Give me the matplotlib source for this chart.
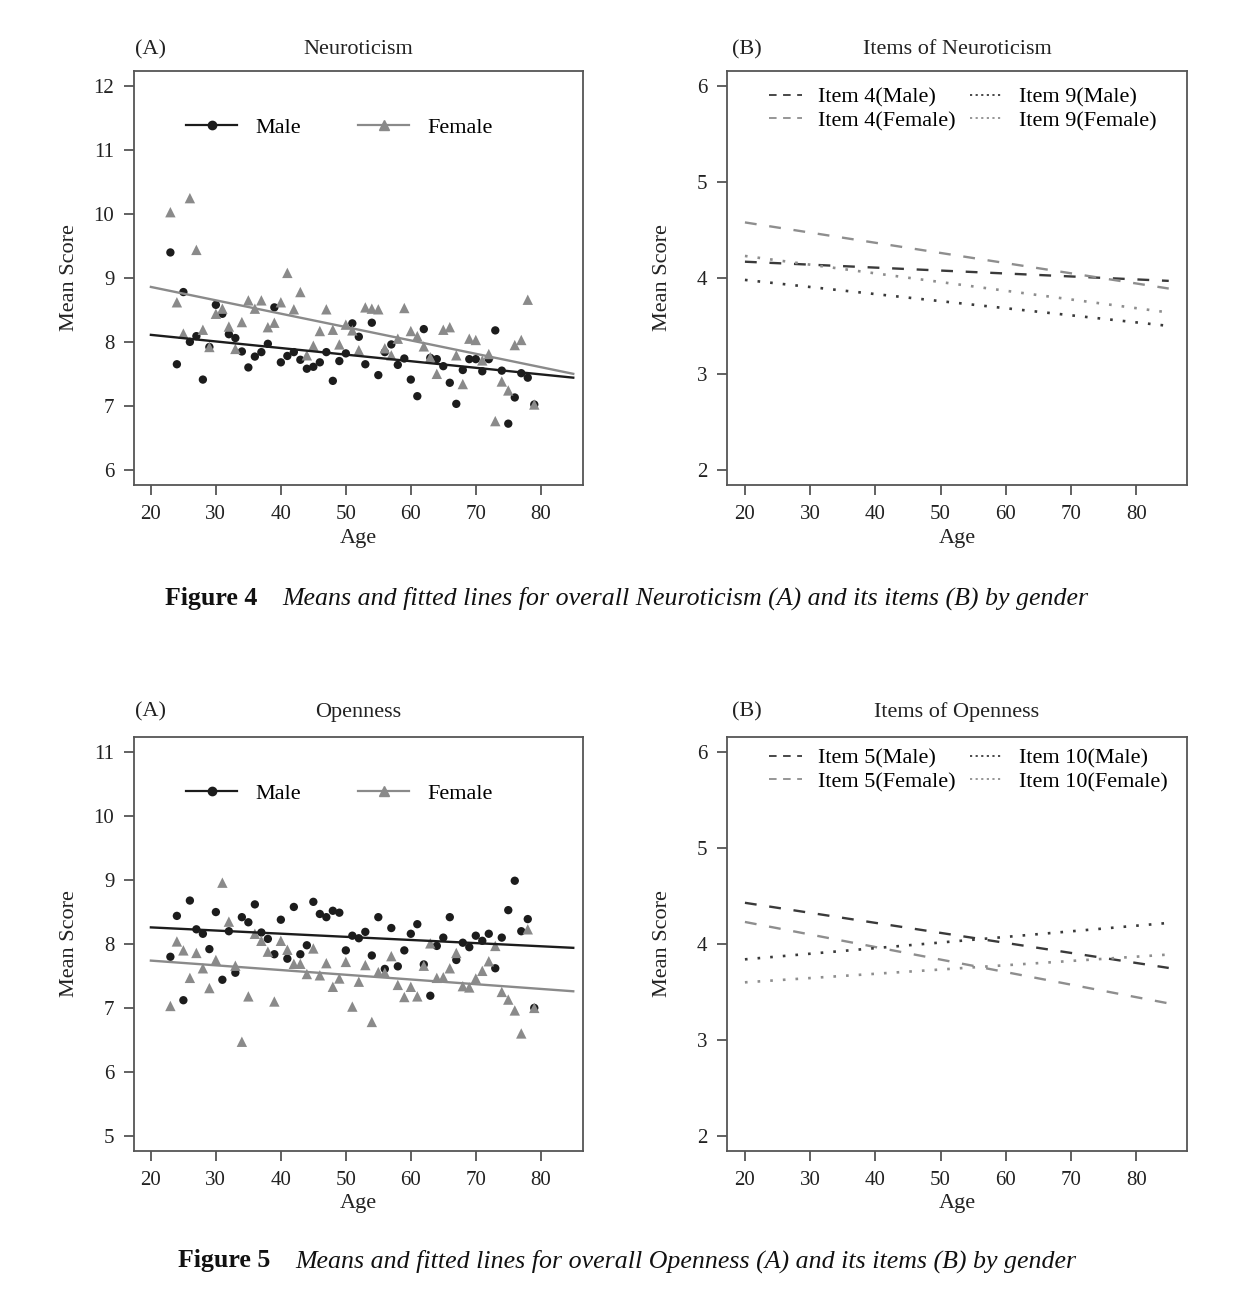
import matplotlib
matplotlib.use('Agg')
import matplotlib.pyplot as plt
from matplotlib.lines import Line2D

plt.rcParams['font.family'] = ['Liberation Serif', 'DejaVu Serif']

W, H, DPI = 1247, 1315, 100

# ---------------- data ----------------
ages = list(range(23, 80))

neuro_male = [9.40, 7.65, 8.78, 8.00, 8.09, 7.41, 7.92, 8.58, 8.44, 8.12,
              8.06, 7.85, 7.60, 7.77, 7.84, 7.97, 8.54, 7.68, 7.78, 7.84,
              7.72, 7.58, 7.61, 7.68, 7.84, 7.39, 7.70, 7.82, 8.29, 8.08,
              7.65, 8.30, 7.48, 7.84, 7.96, 7.64, 7.74, 7.41, 7.15, 8.20,
              7.75, 7.73, 7.62, 7.36, 7.03, 7.56, 7.73, 7.73, 7.54, 7.73,
              8.18, 7.55, 6.72, 7.13, 7.51, 7.44, 7.02]
neuro_female = [10.03, 8.62, 8.13, 10.25, 9.44, 8.19, 7.92, 8.44, 8.52, 8.24,
                7.89, 8.31, 8.65, 8.52, 8.65, 8.23, 8.30, 8.62, 9.08, 8.51,
                8.78, 7.79, 7.94, 8.17, 8.51, 8.19, 7.96, 8.27, 8.18, 7.87,
                8.54, 8.52, 8.51, 7.90, 7.79, 8.05, 8.53, 8.17, 8.09, 7.93,
                7.76, 7.50, 8.19, 8.23, 7.79, 7.34, 8.05, 8.03, 7.71, 7.81,
                6.76, 7.38, 7.24, 7.95, 8.03, 8.66, 7.02]
open_male = [7.80, 8.44, 7.12, 8.68, 8.23, 8.16, 7.92, 8.50, 7.44, 8.20,
             7.55, 8.42, 8.34, 8.62, 8.18, 8.08, 7.84, 8.38, 7.77, 8.58,
             7.84, 7.98, 8.66, 8.47, 8.42, 8.52, 8.49, 7.90, 8.13, 8.09,
             8.19, 7.82, 8.42, 7.61, 8.25, 7.65, 7.90, 8.16, 8.31, 7.68,
             7.19, 7.97, 8.10, 8.42, 7.75, 8.02, 7.95, 8.13, 8.05, 8.16,
             7.62, 8.10, 8.53, 8.99, 8.20, 8.39, 7.00]
open_female = [7.03, 8.04, 7.90, 7.47, 7.86, 7.62, 7.31, 7.75, 8.96, 8.35,
               7.66, 6.47, 7.18, 8.16, 8.05, 7.88, 7.10, 8.05, 7.91, 7.69,
               7.69, 7.53, 7.93, 7.51, 7.70, 7.33, 7.46, 7.72, 7.02, 7.41,
               7.67, 6.78, 7.56, 7.55, 7.81, 7.36, 7.17, 7.33, 7.18, 7.66,
               8.01, 7.47, 7.48, 7.62, 7.86, 7.34, 7.32, 7.46, 7.58, 7.73,
               7.97, 7.25, 7.13, 6.96, 6.60, 8.23, 7.00]

fit_ages = [20, 85]
neuro_fit_male = [8.11, 7.44]
neuro_fit_female = [8.86, 7.50]
open_fit_male = [8.26, 7.94]
open_fit_female = [7.74, 7.26]

item4_male = [4.17, 3.97]
item4_female = [4.58, 3.89]
item9_male = [3.98, 3.50]
item9_female = [4.23, 3.64]
item5_male = [4.43, 3.75]
item5_female = [4.23, 3.38]
item10_male = [3.84, 4.22]
item10_female = [3.60, 3.89]

x_ticks = [20, 30, 40, 50, 60, 70, 80]

# ---------------- style ----------------
DARK = '#1c1c1c'
GREY = '#8a8a8a'
LDARK = '#3a3a3a'
LGREY = '#8e8e8e'
SPINE = '#555555'
FS = 16
TFS = 15

fig = plt.figure(figsize=(W / DPI, H / DPI), dpi=DPI)
fig.patch.set_facecolor('white')


def px_axes(l, t, r, b):
    return fig.add_axes([l / W, 1 - b / H, (r - l) / W, (b - t) / H])


def style_axes(ax, yticks, ylim, xlim, top_px, l, t, r, b, label_tag, title, tag_px):
    ax.set_xlim(*xlim)
    ax.set_ylim(*ylim)
    ax.set_xticks(x_ticks)
    ax.set_yticks(yticks)
    for s in ax.spines.values():
        s.set_color(SPINE)
        s.set_linewidth(1.3)
    ax.tick_params(direction='out', length=7.2, width=1.3, color=SPINE,
                   labelsize=TFS, pad=7, labelcolor='#222222')
    ax.set_xlabel('Age', fontsize=FS, color='#222222')
    ax.set_ylabel('Mean Score', fontsize=FS, color='#222222')
    hpx = r - l
    vpx = b - t
    ax.xaxis.set_label_coords(0.5, (b - 529) / vpx)
    ax.yaxis.set_label_coords(-55 / hpx, 0.5)
    ty = (b - top_px) / vpx
    ax.text((tag_px - l) / hpx, ty, label_tag, transform=ax.transAxes,
            ha='center', va='center', fontsize=FS, color='#222222')
    ax.text(0.5, ty, title, transform=ax.transAxes,
            ha='center', va='center', fontsize=FS, color='#222222')


def scatter_panel(ax, male, female, fit_m, fit_f, l, r, t, b):
    ax.scatter(ages, male, s=36, marker='o', color=DARK, edgecolors='none', zorder=3)
    ax.scatter(ages, female, s=56, marker='^', color=GREY, edgecolors='none', zorder=3)
    ax.plot(fit_ages, fit_m, color=DARK, lw=1.7, zorder=4)
    ax.plot(fit_ages, fit_f, color=GREY, lw=1.7, zorder=4)
    h_m = Line2D([], [], color=DARK, lw=1.6, marker='o', markersize=6)
    h_f = Line2D([], [], color=GREY, lw=1.6, marker='^', markersize=7)
    ax.legend([h_m, h_f], ['Male', 'Female'], ncol=2, frameon=False,
              loc='center left', bbox_to_anchor=((186 - l) / (r - l), 0.864),
              fontsize=FS, handlelength=2.3, handletextpad=0.8,
              columnspacing=2.6, borderpad=0, borderaxespad=0)


def items_panel(ax, names, series, l, r, t, b, center_px):
    styles = [(LDARK, (5, 5.4), 1.7), (LGREY, (5, 5.4), 1.7),
              (LDARK, (1, 3.8), 1.9), (LGREY, (1, 3.8), 1.9)]
    for vals, (c, d, lw) in zip(series, styles):
        ax.plot(fit_ages, vals, color=c, lw=lw, dashes=d, zorder=3)
    hs = [Line2D([], [], color=LDARK, lw=1.3, dashes=(4.2, 3.6)),
          Line2D([], [], color=LGREY, lw=1.3, dashes=(4.2, 3.6)),
          Line2D([], [], color=LDARK, lw=1.3, dashes=(1.2, 1.9)),
          Line2D([], [], color=LGREY, lw=1.3, dashes=(1.2, 1.9))]
    ax.legend(hs, names, ncol=2, frameon=False, loc='center left',
              bbox_to_anchor=((769 - l) / (r - l), (b - center_px) / (b - t)),
              fontsize=FS, handlelength=1.5, handletextpad=0.72, columnspacing=0.63,
              labelspacing=0.15, borderpad=0, borderaxespad=0)


# ---------- Figure 4 ----------
L1, R1, L2, R2 = 134, 583, 727, 1187
T_top, B_top = 71, 485
T_bot, B_bot = 737, 1151

ax1 = px_axes(L1, T_top, R1, B_top)
scatter_panel(ax1, neuro_male, neuro_female, neuro_fit_male, neuro_fit_female, L1, R1, T_top, B_top)
style_axes(ax1, [6, 7, 8, 9, 10, 11, 12], (5.76, 12.24), (17.4, 86.5), 50,
           L1, T_top, R1, B_top, '(A)', 'Neuroticism', 151)

ax2 = px_axes(L2, T_top, R2, B_top)
items_panel(ax2, ['Item 4(Male)', 'Item 4(Female)', 'Item 9(Male)', 'Item 9(Female)'],
            [item4_male, item4_female, item9_male, item9_female], L2, R2, T_top, B_top, 109)
style_axes(ax2, [2, 3, 4, 5, 6], (1.84, 6.16), (17.25, 87.8), 50,
           L2, T_top, R2, B_top, '(B)', 'Items of Neuroticism', 747)

# ---------- Figure 5 ----------
ax3 = px_axes(L1, T_bot, R1, B_bot)
scatter_panel(ax3, open_male, open_female, open_fit_male, open_fit_female, L1, R1, T_bot, B_bot)
style_axes(ax3, [5, 6, 7, 8, 9, 10, 11], (4.76, 11.24), (17.4, 86.5), 712,
           L1, T_bot, R1, B_bot, '(A)', 'Openness', 151)
ax3.xaxis.set_label_coords(0.5, (B_bot - 1194) / (B_bot - T_bot))

ax4 = px_axes(L2, T_bot, R2, B_bot)
items_panel(ax4, ['Item 5(Male)', 'Item 5(Female)', 'Item 10(Male)', 'Item 10(Female)'],
            [item5_male, item5_female, item10_male, item10_female], L2, R2, T_bot, B_bot, 770)
style_axes(ax4, [2, 3, 4, 5, 6], (1.84, 6.16), (17.25, 87.8), 712,
           L2, T_bot, R2, B_bot, '(B)', 'Items of Openness', 747)
ax4.xaxis.set_label_coords(0.5, (B_bot - 1194) / (B_bot - T_bot))

# ---------- captions ----------
CFS = 18.6
fig.text(165 / W, 1 - 598 / H, 'Figure 4', fontsize=CFS, fontweight='bold',
         ha='left', va='center', color='#111111')
fig.text(282 / W, 1 - 598 / H,
         'Means and fitted lines for overall Neuroticism (A) and its items (B) by gender',
         fontsize=CFS, fontstyle='italic', ha='left', va='center', color='#111111')
fig.text(178 / W, 1 - 1261 / H, 'Figure 5', fontsize=CFS, fontweight='bold',
         ha='left', va='center', color='#111111')
fig.text(295 / W, 1 - 1261 / H,
         'Means and fitted lines for overall Openness (A) and its items (B) by gender',
         fontsize=CFS, fontstyle='italic', ha='left', va='center', color='#111111')

fig.savefig('out.png', dpi=DPI, facecolor='white')
